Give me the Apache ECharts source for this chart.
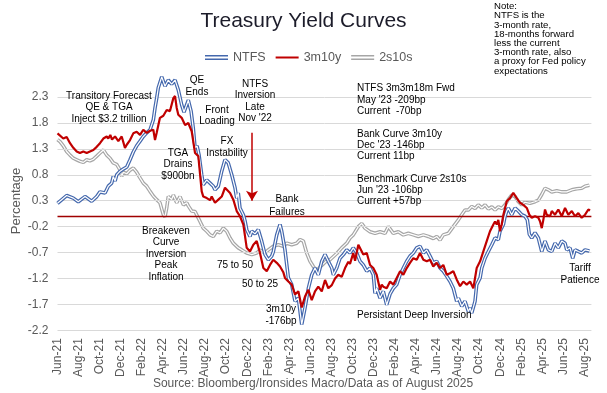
<!DOCTYPE html>
<html>
<head>
<meta charset="utf-8">
<script src="https://cdn.jsdelivr.net/npm/echarts@6/dist/echarts.min.js"></script>
<style>
html,body{margin:0;padding:0;background:#fff;}
#chart{width:607px;height:393px;}
</style>
</head>
<body>
<div id="chart"></div>
<script>
// X axis tick labels (every 2 months from Jun-21); x values are months since 1 Jun 2021
const monthLabels = ['Jun-21','Aug-21','Oct-21','Dec-21','Feb-22','Apr-22','Jun-22','Aug-22','Oct-22','Dec-22','Feb-23','Apr-23','Jun-23','Aug-23','Oct-23','Dec-23','Feb-24','Apr-24','Jun-24','Aug-24','Oct-24','Dec-24','Feb-25','Apr-25','Jun-25','Aug-25'];
const yTicks = [-2.2,-1.7,-1.2,-0.7,-0.2,0.3,0.8,1.3,1.8,2.3];

// NTFS (3m3m18m forward spread)
const ntfsMonths = [0,0.87,1.5,1.97,2.61,3.24,3.72,4.03,4.51,4.82,5.14,5.29,5.46,5.62,5.94,6.24,6.57,6.88,7.19,7.51,7.83,8.14,8.46,8.78,8.94,9.09,9.25,9.41,9.56,9.89,10.2,10.51,10.83,11.15,11.46,11.78,12.0,12.41,12.67,12.88,13.05,13.24,13.43,13.68,13.83,14.16,14.47,14.78,14.94,15.26,15.58,15.89,16.2,16.53,16.84,17.0,17.15,17.31,17.63,17.79,17.95,18.26,18.43,18.74,19.05,19.37,19.69,20.0,20.32,20.47,20.8,21.11,21.27,21.58,21.9,22.22,22.53,22.85,23.17,23.48,23.8,24.12,24.43,24.74,25.07,25.38,25.69,26.02,26.17,26.49,26.8,27.12,27.44,27.75,28.06,28.39,28.7,29.01,29.34,29.65,29.96,30.12,30.28,30.6,30.91,31.23,31.55,31.86,32.18,32.5,32.81,33.13,33.44,33.76,34.08,34.39,34.71,35.03,35.34,35.65,35.98,36.29,36.6,36.93,37.24,37.55,37.87,38.03,38.35,38.66,38.98,39.14,39.3,39.61,39.77,40.09,40.25,40.56,40.87,41.2,41.51,41.82,41.98,42.3,42.46,42.62,42.77,42.93,43.09,43.41,43.72,44.04,44.35,44.57,44.76,44.99,45.3,45.62,45.78,45.94,46.25,46.57,46.89,47.2,47.51,47.84,48.15,48.31,48.62,48.88,49.1,49.41,49.73,50.05,50.46];
const ntfsValues = [0.25,0.40,0.35,0.28,0.38,0.29,0.38,0.47,0.45,0.58,0.64,0.77,0.68,0.80,0.87,0.91,0.95,1.09,1.24,1.36,1.45,1.54,1.61,1.67,1.70,1.86,2.09,2.28,2.48,2.69,2.51,2.63,2.55,2.63,2.44,2.15,2.01,2.24,2.03,1.70,1.32,1.36,1.18,0.80,0.61,0.70,0.64,0.58,0.51,0.58,0.87,1.09,1.03,0.80,0.55,0.35,0.45,0.16,0.03,-0.09,-0.26,-0.39,-0.29,-0.34,-0.26,-0.48,-0.74,-0.84,-0.77,-0.69,-0.36,-0.16,-0.29,-0.65,-1.19,-1.32,-1.64,-1.58,-2.09,-1.77,-1.39,-1.13,-1.00,-1.13,-0.87,-0.74,-0.87,-1.00,-1.13,-1.00,-0.81,-0.74,-0.65,-0.71,-0.61,-0.71,-0.87,-0.94,-1.06,-1.00,-1.13,-1.49,-1.39,-1.58,-1.45,-1.71,-1.50,-1.39,-1.32,-1.13,-1.00,-0.87,-0.77,-0.71,-0.61,-0.58,-0.71,-0.65,-0.77,-0.90,-0.87,-1.00,-1.06,-1.16,-1.26,-1.39,-1.64,-1.58,-1.74,-1.64,-1.84,-1.77,-1.87,-1.64,-1.32,-1.19,-1.00,-0.81,-0.68,-0.55,-0.42,-0.45,-0.29,-0.16,0.00,0.10,0.16,0.19,0.03,0.16,0.10,0.03,0.00,-0.07,-0.35,-0.42,-0.32,-0.42,-0.55,-0.68,-0.48,-0.65,-0.68,-0.52,-0.61,-0.48,-0.52,-0.65,-0.61,-0.81,-0.65,-0.68,-0.71,-0.65,-0.67];

// 3m10y curve
const curveMonths = [0,0.55,0.87,1.19,1.5,1.82,2.13,2.45,2.77,3.08,3.4,3.72,4.03,4.35,4.67,4.82,5.01,5.17,5.46,5.77,6.09,6.4,6.57,6.88,7.19,7.51,7.83,8.14,8.46,8.78,9.09,9.25,9.41,9.72,10.04,10.36,10.67,10.99,11.15,11.31,11.46,11.78,12.1,12.41,12.73,13.05,13.36,13.68,13.83,14.16,14.47,14.63,14.94,15.26,15.58,15.89,16.05,16.37,16.68,17.0,17.31,17.63,17.95,18.26,18.58,18.9,19.21,19.53,19.85,20.16,20.47,20.8,21.11,21.42,21.58,21.9,22.22,22.53,22.85,23.17,23.48,23.8,24.12,24.43,24.74,25.07,25.38,25.69,26.02,26.33,26.64,26.96,27.28,27.59,27.75,28.06,28.23,28.54,28.7,29.01,29.34,29.65,29.96,30.28,30.6,30.76,30.91,31.23,31.55,31.86,32.18,32.5,32.81,33.13,33.44,33.76,34.08,34.39,34.71,35.03,35.34,35.65,35.98,36.29,36.6,36.93,37.24,37.55,37.87,38.19,38.5,38.82,39.14,39.45,39.77,40.09,40.4,40.72,41.03,41.35,41.51,41.67,41.82,41.98,42.14,42.3,42.46,42.62,42.93,43.09,43.24,43.56,43.88,44.19,44.52,44.76,44.99,45.3,45.62,45.78,45.94,46.09,46.25,46.41,46.73,46.89,47.2,47.51,47.84,48.15,48.46,48.79,49.1,49.41,49.73,50.05,50.36,50.52];
const curveValues = [1.60,1.50,1.53,1.41,1.32,1.25,1.22,1.25,1.22,1.25,1.28,1.34,1.41,1.50,1.54,1.50,1.57,1.48,1.54,1.45,1.54,1.32,1.38,1.47,1.60,1.63,1.57,1.67,1.61,1.65,1.67,1.47,1.61,1.90,1.94,2.05,2.03,2.28,2.32,2.09,1.96,1.90,1.76,1.80,1.64,1.22,1.16,0.48,0.38,0.35,0.31,0.38,0.26,0.32,0.38,0.55,0.58,0.45,0.32,0.10,0.00,-0.16,-0.61,-0.68,-0.55,-0.48,-0.71,-1.00,-1.06,-0.94,-0.84,-0.90,-0.97,-1.08,-1.19,-1.26,-1.32,-1.51,-1.45,-1.76,-1.55,-1.42,-1.62,-1.45,-1.36,-1.45,-1.23,-1.39,-1.33,-1.20,-1.13,-1.17,-1.00,-0.88,-0.92,-0.71,-0.86,-0.55,-0.52,-0.74,-0.71,-0.94,-1.00,-1.13,-1.42,-1.32,-1.36,-1.39,-1.26,-1.32,-1.19,-1.06,-1.13,-1.00,-0.90,-0.81,-0.84,-0.71,-0.84,-0.87,-0.84,-0.97,-0.90,-1.00,-0.94,-1.13,-1.10,-1.06,-1.22,-1.35,-1.26,-1.32,-1.26,-1.39,-1.00,-0.87,-0.68,-0.48,-0.29,-0.16,-0.10,-0.16,-0.07,-0.29,-0.16,0.03,0.16,0.29,0.35,0.32,0.45,0.35,0.26,0.22,0.16,0.03,-0.03,0.00,-0.03,-0.10,-0.23,-0.07,0.13,0.03,0.00,0.10,0.03,0.13,0.00,0.16,0.03,0.10,0.00,0.06,-0.03,0.03,0.13,0.11];

// 2s10s curve
const benchMonths = [0,0.24,0.55,0.87,1.19,1.5,1.82,2.13,2.45,2.77,3.08,3.4,3.72,4.03,4.35,4.67,4.98,5.29,5.62,5.94,6.09,6.24,6.57,6.88,7.19,7.51,7.83,8.14,8.46,8.78,9.09,9.41,9.72,10.04,10.2,10.36,10.51,10.83,10.99,11.31,11.62,11.94,12.26,12.41,12.73,13.05,13.52,13.83,14.16,14.47,14.78,15.1,15.42,15.73,16.05,16.37,16.68,17.15,17.48,17.95,18.43,18.9,19.21,19.69,20.0,20.47,20.95,21.42,21.75,22.22,22.69,23.01,23.32,23.64,23.96,24.27,24.59,24.91,25.22,25.54,25.85,26.49,26.96,27.44,27.75,28.06,28.39,28.54,28.86,29.17,29.65,30.12,30.6,31.07,31.39,31.86,32.33,32.81,33.28,33.76,34.23,34.71,35.18,35.65,35.98,36.29,36.6,37.08,37.55,38.03,38.35,38.66,38.98,39.3,39.61,39.92,40.25,40.56,40.87,41.2,41.51,41.82,42.14,42.46,42.77,43.09,43.41,43.72,44.04,44.35,44.83,45.3,45.62,45.94,46.25,46.57,46.89,47.36,47.84,48.31,48.79,49.26,49.73,50.05,50.46];
const benchValues = [1.48,1.44,1.36,1.25,1.18,1.12,1.09,1.06,1.04,1.09,1.07,1.10,1.16,1.22,1.28,1.18,1.12,1.03,1.00,0.89,0.77,0.85,0.82,0.89,0.93,0.85,0.74,0.64,0.58,0.48,0.39,0.32,0.26,0.03,-0.01,0.16,0.38,0.32,0.41,0.26,0.38,0.22,0.26,0.20,0.10,0.09,-0.10,-0.23,-0.29,-0.36,-0.39,-0.29,-0.32,-0.23,-0.29,-0.42,-0.52,-0.61,-0.65,-0.71,-0.74,-0.71,-0.65,-0.71,-0.65,-0.58,-0.55,-0.58,-0.52,-0.55,-0.52,-0.45,-0.48,-0.71,-0.87,-0.97,-1.06,-0.98,-0.92,-0.86,-0.84,-0.72,-0.61,-0.52,-0.42,-0.36,-0.25,-0.20,-0.14,-0.23,-0.30,-0.33,-0.30,-0.33,-0.20,-0.33,-0.30,-0.36,-0.33,-0.36,-0.39,-0.36,-0.39,-0.43,-0.39,-0.46,-0.36,-0.33,-0.20,-0.07,0.03,0.12,0.12,0.19,0.15,0.22,0.16,0.22,0.14,0.18,0.12,0.18,0.15,0.22,0.32,0.41,0.38,0.28,0.22,0.27,0.25,0.28,0.31,0.42,0.54,0.51,0.47,0.49,0.47,0.47,0.51,0.53,0.54,0.58,0.60];

// annotation arrow (NTFS inversion, late Nov '22) in data units
const arrowMonth = 18.45, arrowFrom = 1.61, arrowTo = 0.30;

const pair = (xs, ys) => xs.map((x, i) => [x, ys[i]]);
const FONT = '"Liberation Sans", Arial, sans-serif';
const chart = echarts.init(document.getElementById('chart'), null, {renderer: 'canvas'});

function txt(text, x, y, align, size, lh, color) {
  return {type: 'text', x: x, y: y, silent: true, z: 100,
    style: {text: text, font: (size || 10) + 'px ' + FONT, fill: color || '#000',
      textAlign: align || 'center', textVerticalAlign: 'top', lineHeight: lh || 11.5}};
}

const option = {
  animation: false,
  backgroundColor: '#fff',
  title: {text: 'Treasury Yield Curves', left: 'center', top: 6,
    textStyle: {fontFamily: FONT, fontSize: 21, fontWeight: 'normal', color: '#1c1c2a'}},
  legend: {
    top: 46, left: 200, itemWidth: 23, itemHeight: 5, itemGap: 10, symbolKeepAspect: false,
    textStyle: {fontFamily: FONT, fontSize: 12.5, color: '#595959'},
    data: [
      {name: 'NTFS', icon: 'path://M0,0H28V1.5H0Z M0,3.5H28V5H0Z'},
      {name: '3m10y', icon: 'path://M0,0H28V0.01H0Z M0,1.4H28V3.6H0Z M0,4.99H28V5H0Z'},
      {name: '2s10s', icon: 'path://M0,0H28V1.5H0Z M0,3.5H28V5H0Z'}
    ]
  },
  grid: {left: 57.5, right: 15.6, top: 71.2, bottom: 62.8, containLabel: false},
  xAxis: {
    type: 'value', min: 0, max: 50.65, interval: 2,
    axisLine: {show: false}, axisTick: {show: false}, splitLine: {show: false},
    axisLabel: {rotate: 90, margin: 8, fontFamily: FONT, fontSize: 12, color: '#595959',
      showMaxLabel: false,
      formatter: v => { const i = Math.round(v / 2); return Math.abs(v / 2 - i) < 1e-6 && monthLabels[i] ? monthLabels[i] : ''; }}
  },
  yAxis: {
    type: 'value', min: -2.2, max: 2.8, interval: 0.5,
    axisLine: {show: false}, axisTick: {show: false}, splitLine: {show: false},
    axisLabel: {showMaxLabel: false, margin: 9, fontFamily: FONT, fontSize: 12, color: '#595959',
      formatter: v => (Math.round(v * 10) / 10).toFixed(1)}
  },
  series: [
    {name: 'grid', type: 'line', data: [], z: 1, silent: true,
      markLine: {silent: true, symbol: 'none', label: {show: false}, animation: false,
        lineStyle: {color: '#d9d9d9', width: 1, type: 'solid'},
        data: yTicks.map(v => ({yAxis: v}))}},
    {name: 'zero', type: 'line', data: [], z: 2, silent: true,
      markLine: {silent: true, symbol: 'none', label: {show: false}, animation: false,
        lineStyle: {color: '#a00000', width: 1.3, type: 'solid'},
        data: [{yAxis: 0}]}},
    {name: '2s10s', type: 'line', data: pair(benchMonths, benchValues), symbol: 'none', z: 3,
      color: '#a6a6a6', lineStyle: {color: '#a6a6a6', width: 3.6}},
    {name: '2s10s inner', type: 'line', data: pair(benchMonths, benchValues), symbol: 'none', z: 4,
      color: '#ffffff', lineStyle: {color: '#ffffff', width: 1.2}},
    {name: 'NTFS', type: 'line', data: pair(ntfsMonths, ntfsValues), symbol: 'none', z: 5,
      color: '#4468ad', lineStyle: {color: '#4468ad', width: 3.6}},
    {name: 'NTFS inner', type: 'line', data: pair(ntfsMonths, ntfsValues), symbol: 'none', z: 6,
      color: '#ffffff', lineStyle: {color: '#ffffff', width: 1.2}},
    {name: '3m10y', type: 'line', data: pair(curveMonths, curveValues), symbol: 'none', z: 7,
      color: '#c00000', lineStyle: {color: '#c00000', width: 2.2},
      markLine: {silent: true, symbol: ['none', 'arrow'], symbolSize: [9, 10], label: {show: false}, animation: false,
        lineStyle: {color: '#c00000', width: 1.5, type: 'solid'},
        data: [[{coord: [arrowMonth, arrowFrom]}, {coord: [arrowMonth, arrowTo]}]]}}
  ],
  graphic: [
    {type: 'text', x: 16, y: 201, rotation: Math.PI / 2, silent: true,
      style: {text: 'Percentage', font: '13px ' + FONT, fill: '#595959', textAlign: 'center', textVerticalAlign: 'middle'}},
    txt('Source: Bloomberg/Ironsides Macro/Data as of August 2025', 313, 377, 'center', 12, 14, '#595959'),
    {type: 'text', x: 494, y: 2, silent: true, z: 100,
      style: {text: 'Note:\nNTFS is the\n3-month rate,\n18-months forward\nless the current\n3-month rate, also\na proxy for Fed policy\nexpectations',
        font: '9.6px ' + FONT, fill: '#000', textAlign: 'left', textVerticalAlign: 'top', lineHeight: 9.2}},
    txt('Transitory Forecast\nQE & TGA\nInject $3.2 trillion', 109, 90.3),
    txt('QE\nEnds', 197, 74.8),
    txt('Front\nLoading', 217, 104.3),
    txt('NTFS\nInversion\nLate\nNov \'22', 255, 78.3),
    txt('FX\nInstability', 227, 134.5, 'center', 10, 12.5),
    txt('TGA\nDrains\n$900bn', 178, 147.3),
    txt('Bank\nFailures', 287, 193, 'center', 10, 12.5),
    txt('Breakeven\nCurve\nInversion\nPeak\nInflation', 166, 225, 'center', 10, 11.6),
    txt('75 to 50', 235, 259),
    txt('50 to 25', 260, 278.3),
    txt('3m10y\n-176bp', 281, 302.5, 'center', 10, 12.5),
    txt('NTFS 3m3m18m Fwd\nMay \'23 -209bp\nCurrent  -70bp', 357, 83, 'left', 10, 11.3),
    txt('Bank Curve 3m10y\nDec \'23 -146bp\nCurrent 11bp', 357, 129, 'left', 10, 11),
    txt('Benchmark Curve 2s10s\nJun \'23 -106bp\nCurrent +57bp', 357, 174, 'left', 10, 11),
    txt('Persistant Deep Inversion', 357, 309.5, 'left'),
    txt('Tariff\nPatience', 580, 262, 'center', 10, 12.3)
  ]
};
chart.setOption(option);
</script>
</body>
</html>
